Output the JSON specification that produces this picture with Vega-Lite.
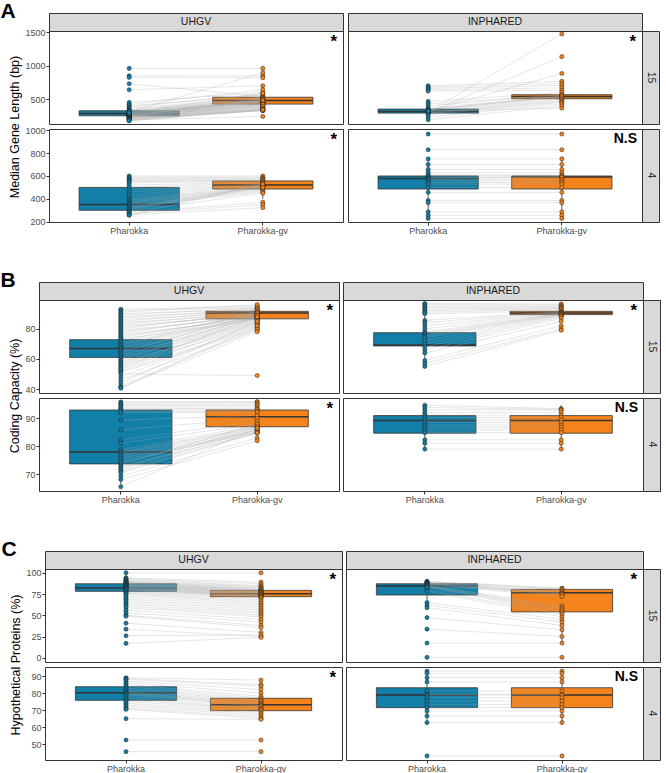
{
"$schema":"https://vega.github.io/schema/vega-lite/v6.json",
"background":"white",
"padding":{"left":0,"top":0,"right":0,"bottom":0},
"autosize":{"type":"pad"},
"columns":1,
"align":"none",
"spacing":33,
"config":{"font":"Liberation Sans","view":{"stroke":"#333333","strokeWidth":1},
"axis":{"labelFont":"Liberation Sans","titleFont":"Liberation Sans","labelFontSize":9,"labelColor":"#4d4d4d","labelOverlap":false,"tickColor":"#333333","tickSize":3,"domain":false,"grid":false,"labelPadding":1,"titleFontSize":12.5,"titleColor":"#000000","titleFontWeight":"normal","titlePadding":3}},
"datasets":{
"none":[],
"sig":[{"cell":"A_U15","s":"*"},{"cell":"A_I15","s":"*"},{"cell":"A_U4","s":"*"},{"cell":"A_I4","s":"N.S"},{"cell":"B_U15","s":"*"},{"cell":"B_I15","s":"*"},{"cell":"B_U4","s":"*"},{"cell":"B_I4","s":"N.S"},{"cell":"C_U15","s":"*"},{"cell":"C_I15","s":"*"},{"cell":"C_U4","s":"*"},{"cell":"C_I4","s":"N.S"}],
"box":[
{"cell":"A_U15","tool":"a","lo":175,"q1":250,"med":285,"q3":325,"hi":450},{"cell":"A_U15","tool":"b","lo":325,"q1":425,"med":478,"q3":528,"hi":680},
{"cell":"A_I15","tool":"a","lo":190,"q1":290,"med":315,"q3":350,"hi":465},{"cell":"A_I15","tool":"b","lo":430,"q1":505,"med":540,"q3":566,"hi":631},
{"cell":"A_U4","tool":"a","lo":257,"q1":300,"med":351,"q3":500,"hi":600},{"cell":"A_U4","tool":"b","lo":400,"q1":486,"med":520,"q3":557,"hi":600},
{"cell":"A_I4","tool":"a","lo":286,"q1":486,"med":577,"q3":600,"hi":749},{"cell":"A_I4","tool":"b","lo":286,"q1":486,"med":591,"q3":600,"hi":749},
{"cell":"B_U15","tool":"a","lo":44,"q1":61,"med":67,"q3":72.8,"hi":90},{"cell":"B_U15","tool":"b","lo":79,"q1":86.6,"med":90.5,"q3":91.6,"hi":96},
{"cell":"B_I15","tool":"a","lo":55,"q1":68.6,"med":69.2,"q3":77.4,"hi":90},{"cell":"B_I15","tool":"b","lo":86.5,"q1":89.4,"med":90.5,"q3":91.6,"hi":94.9},
{"cell":"B_U4","tool":"a","lo":65.5,"q1":73.7,"med":78,"q3":93,"hi":95.9},{"cell":"B_U4","tool":"b","lo":84.7,"q1":87,"med":90.6,"q3":93,"hi":95.9},
{"cell":"B_I4","tool":"a","lo":79,"q1":84.7,"med":89.2,"q3":91,"hi":94.7},{"cell":"B_I4","tool":"b","lo":79,"q1":84.7,"med":89.2,"q3":91,"hi":94.7},
{"cell":"C_U15","tool":"a","lo":65,"q1":78.2,"med":82,"q3":87.1,"hi":100},{"cell":"C_U15","tool":"b","lo":61,"q1":71.9,"med":75.4,"q3":79.3,"hi":89},
{"cell":"C_I15","tool":"a","lo":59,"q1":73.9,"med":84.4,"q3":87.1,"hi":90},{"cell":"C_I15","tool":"b","lo":17.3,"q1":54,"med":76.6,"q3":80.5,"hi":82},
{"cell":"C_U4","tool":"a","lo":70.4,"q1":75.7,"med":80.2,"q3":83.7,"hi":89},{"cell":"C_U4","tool":"b","lo":64.5,"q1":69.6,"med":73.1,"q3":76.9,"hi":87.6},
{"cell":"C_I4","tool":"a","lo":62.6,"q1":71.4,"med":78.8,"q3":83.1,"hi":92.9},{"cell":"C_I4","tool":"b","lo":62.6,"q1":71.4,"med":78.8,"q3":83.1,"hi":92.9}],
"A_U15":[{"i":1,"a":960,"b":960},{"i":2,"a":850,"b":850},{"i":3,"a":825,"b":820},{"i":4,"a":730,"b":540},{"i":5,"a":640,"b":700},{"i":6,"a":450,"b":600},{"i":7,"a":420,"b":640},{"i":8,"a":400,"b":560},{"i":9,"a":380,"b":580},{"i":10,"a":360,"b":530},{"i":11,"a":340,"b":520},{"i":12,"a":330,"b":500},{"i":13,"a":320,"b":510},{"i":14,"a":310,"b":490},{"i":15,"a":305,"b":480},{"i":16,"a":300,"b":470},{"i":17,"a":295,"b":500},{"i":18,"a":290,"b":460},{"i":19,"a":285,"b":480},{"i":20,"a":280,"b":470},{"i":21,"a":278,"b":455},{"i":22,"a":275,"b":490},{"i":23,"a":270,"b":450},{"i":24,"a":268,"b":440},{"i":25,"a":265,"b":460},{"i":26,"a":262,"b":430},{"i":27,"a":260,"b":445},{"i":28,"a":258,"b":470},{"i":29,"a":255,"b":420},{"i":30,"a":252,"b":400},{"i":31,"a":250,"b":480},{"i":32,"a":248,"b":410},{"i":33,"a":245,"b":390},{"i":34,"a":242,"b":430},{"i":35,"a":240,"b":380},{"i":36,"a":238,"b":400},{"i":37,"a":235,"b":360},{"i":38,"a":230,"b":420},{"i":39,"a":228,"b":350},{"i":40,"a":225,"b":370},{"i":41,"a":220,"b":340},{"i":42,"a":215,"b":330},{"i":43,"a":210,"b":390},{"i":44,"a":205,"b":360},{"i":45,"a":200,"b":325},{"i":46,"a":195,"b":350},{"i":47,"a":190,"b":335},{"i":48,"a":185,"b":240},{"i":49,"a":180,"b":330},{"i":50,"a":175,"b":340},{"i":51,"a":310,"b":895},{"i":52,"a":290,"b":590}],
"A_I15":[{"i":1,"a":310,"b":1475},{"i":2,"a":300,"b":1136},{"i":3,"a":320,"b":884},{"i":4,"a":700,"b":768},{"i":5,"a":680,"b":733},{"i":6,"a":660,"b":702},{"i":7,"a":640,"b":667},{"i":8,"a":620,"b":631},{"i":9,"a":465,"b":601},{"i":10,"a":430,"b":566},{"i":11,"a":400,"b":560},{"i":12,"a":365,"b":545},{"i":13,"a":350,"b":540},{"i":14,"a":340,"b":530},{"i":15,"a":330,"b":548},{"i":16,"a":315,"b":520},{"i":17,"a":300,"b":500},{"i":18,"a":290,"b":480},{"i":19,"a":280,"b":465},{"i":20,"a":265,"b":450},{"i":21,"a":230,"b":430},{"i":22,"a":190,"b":400},{"i":23,"a":320,"b":365}],
"A_U4":[{"i":1,"a":600,"b":600},{"i":2,"a":590,"b":590},{"i":3,"a":580,"b":580},{"i":4,"a":570,"b":575},{"i":5,"a":560,"b":565},{"i":6,"a":550,"b":560},{"i":7,"a":540,"b":555},{"i":8,"a":520,"b":545},{"i":9,"a":500,"b":540},{"i":10,"a":480,"b":530},{"i":11,"a":460,"b":525},{"i":12,"a":440,"b":520},{"i":13,"a":420,"b":515},{"i":14,"a":400,"b":510},{"i":15,"a":390,"b":505},{"i":16,"a":380,"b":500},{"i":17,"a":370,"b":495},{"i":18,"a":360,"b":490},{"i":19,"a":350,"b":480},{"i":20,"a":340,"b":470},{"i":21,"a":330,"b":460},{"i":22,"a":320,"b":520},{"i":23,"a":310,"b":510},{"i":24,"a":300,"b":500},{"i":25,"a":290,"b":450},{"i":26,"a":280,"b":370},{"i":27,"a":270,"b":350},{"i":28,"a":260,"b":323},{"i":29,"a":257,"b":530}],
"A_I4":[{"i":1,"a":966,"b":966},{"i":2,"a":829,"b":829},{"i":3,"a":749,"b":749},{"i":4,"a":700,"b":700},{"i":5,"a":657,"b":657},{"i":6,"a":629,"b":629},{"i":7,"a":609,"b":609},{"i":8,"a":600,"b":600},{"i":9,"a":586,"b":592},{"i":10,"a":578,"b":590},{"i":11,"a":571,"b":571},{"i":12,"a":557,"b":557},{"i":13,"a":543,"b":543},{"i":14,"a":529,"b":529},{"i":15,"a":500,"b":500},{"i":16,"a":457,"b":457},{"i":17,"a":386,"b":386},{"i":18,"a":366,"b":366},{"i":19,"a":286,"b":286},{"i":20,"a":257,"b":257},{"i":21,"a":229,"b":229}],
"B_U15":[{"i":1,"a":93,"b":95},{"i":2,"a":92,"b":94},{"i":3,"a":91,"b":96},{"i":4,"a":90,"b":93},{"i":5,"a":89,"b":94},{"i":6,"a":88,"b":92},{"i":7,"a":87,"b":93},{"i":8,"a":86,"b":91},{"i":9,"a":85,"b":92},{"i":10,"a":84,"b":90},{"i":11,"a":83,"b":91},{"i":12,"a":82,"b":89},{"i":13,"a":81,"b":90},{"i":14,"a":80,"b":91},{"i":15,"a":79,"b":88},{"i":16,"a":78,"b":89},{"i":17,"a":77,"b":90},{"i":18,"a":76,"b":87},{"i":19,"a":75,"b":88},{"i":20,"a":74,"b":89},{"i":21,"a":73,"b":86},{"i":22,"a":72,"b":90},{"i":23,"a":71,"b":88},{"i":24,"a":70,"b":87},{"i":25,"a":69,"b":91},{"i":26,"a":68,"b":89},{"i":27,"a":67,"b":88},{"i":28,"a":66,"b":87},{"i":29,"a":65,"b":86},{"i":30,"a":64,"b":90},{"i":31,"a":63,"b":85},{"i":32,"a":62,"b":88},{"i":33,"a":61,"b":84},{"i":34,"a":60,"b":89},{"i":35,"a":59,"b":87},{"i":36,"a":58,"b":83},{"i":37,"a":57,"b":86},{"i":38,"a":56,"b":85},{"i":39,"a":55,"b":82},{"i":40,"a":54,"b":88},{"i":41,"a":53,"b":84},{"i":42,"a":52,"b":81},{"i":43,"a":51,"b":80},{"i":44,"a":50,"b":49},{"i":45,"a":48,"b":83},{"i":46,"a":46,"b":79},{"i":47,"a":44,"b":85},{"i":48,"a":42,"b":80},{"i":49,"a":41,"b":78},{"i":50,"a":40.6,"b":82}],
"B_I15":[{"i":1,"a":96.8,"b":96.4},{"i":2,"a":96,"b":95.8},{"i":3,"a":95,"b":95},{"i":4,"a":94,"b":94.5},{"i":5,"a":93,"b":94},{"i":6,"a":92,"b":93.5},{"i":7,"a":91,"b":93},{"i":8,"a":90,"b":92},{"i":9,"a":85.5,"b":91.5},{"i":10,"a":84,"b":91},{"i":11,"a":82,"b":90.8},{"i":12,"a":80,"b":90.5},{"i":13,"a":78,"b":90.2},{"i":14,"a":77,"b":90},{"i":15,"a":76,"b":89.8},{"i":16,"a":75,"b":89.5},{"i":17,"a":74,"b":89.2},{"i":18,"a":72,"b":89},{"i":19,"a":70,"b":88.5},{"i":20,"a":68,"b":88},{"i":21,"a":66,"b":87},{"i":22,"a":64,"b":85},{"i":23,"a":59,"b":82},{"i":24,"a":57,"b":80},{"i":25,"a":55,"b":79}],
"B_U4":[{"i":1,"a":95.9,"b":96},{"i":2,"a":95.5,"b":95.8},{"i":3,"a":95,"b":95.2},{"i":4,"a":94.5,"b":94.8},{"i":5,"a":94,"b":94.2},{"i":6,"a":93.5,"b":93.6},{"i":7,"a":93,"b":93.2},{"i":8,"a":92.5,"b":92.6},{"i":9,"a":92,"b":92.2},{"i":10,"a":89.4,"b":91},{"i":11,"a":85.9,"b":90},{"i":12,"a":82.3,"b":89},{"i":13,"a":81.1,"b":88},{"i":14,"a":78.8,"b":87.5},{"i":15,"a":78,"b":87},{"i":16,"a":77.6,"b":86.8},{"i":17,"a":77,"b":86.5},{"i":18,"a":76.4,"b":86},{"i":19,"a":75.8,"b":85.5},{"i":20,"a":75.2,"b":85.2},{"i":21,"a":74.6,"b":85},{"i":22,"a":74,"b":86},{"i":23,"a":73.4,"b":88},{"i":24,"a":72.8,"b":84.7},{"i":25,"a":72.2,"b":87},{"i":26,"a":71.7,"b":86},{"i":27,"a":71,"b":85},{"i":28,"a":70.5,"b":84.8},{"i":29,"a":69.3,"b":83},{"i":30,"a":68.1,"b":82},{"i":31,"a":65.5,"b":86.5}],
"B_I4":[{"i":1,"a":94.7,"b":93.5},{"i":2,"a":93.9,"b":93.2},{"i":3,"a":93,"b":93},{"i":4,"a":92,"b":92.2},{"i":5,"a":91.2,"b":91.2},{"i":6,"a":90.4,"b":90.4},{"i":7,"a":89.4,"b":89.4},{"i":8,"a":88.5,"b":88.5},{"i":9,"a":87.6,"b":87.6},{"i":10,"a":86.8,"b":86.8},{"i":11,"a":85.9,"b":85.9},{"i":12,"a":84.9,"b":84.9},{"i":13,"a":82.3,"b":82.3},{"i":14,"a":81.1,"b":81.1},{"i":15,"a":79,"b":79}],
"C_U15":[{"i":1,"a":100,"b":100},{"i":2,"a":94,"b":89},{"i":3,"a":93,"b":87},{"i":4,"a":92,"b":85},{"i":5,"a":91,"b":84},{"i":6,"a":90,"b":83},{"i":7,"a":89.5,"b":82},{"i":8,"a":89,"b":81},{"i":9,"a":88.5,"b":80},{"i":10,"a":88,"b":80},{"i":11,"a":87.5,"b":79},{"i":12,"a":87,"b":79},{"i":13,"a":86.5,"b":78},{"i":14,"a":86,"b":78},{"i":15,"a":85.5,"b":77},{"i":16,"a":85,"b":77},{"i":17,"a":84.5,"b":76},{"i":18,"a":84,"b":76},{"i":19,"a":83.5,"b":75},{"i":20,"a":83,"b":75},{"i":21,"a":82.5,"b":74},{"i":22,"a":82,"b":74},{"i":23,"a":81.5,"b":73},{"i":24,"a":81,"b":73},{"i":25,"a":80.5,"b":72},{"i":26,"a":80,"b":72},{"i":27,"a":79,"b":71},{"i":28,"a":78,"b":70},{"i":29,"a":77,"b":68},{"i":30,"a":76,"b":66},{"i":31,"a":75,"b":64},{"i":32,"a":73,"b":62},{"i":33,"a":71,"b":60},{"i":34,"a":69,"b":58},{"i":35,"a":67,"b":56},{"i":36,"a":65,"b":54},{"i":37,"a":63,"b":52},{"i":38,"a":61,"b":50},{"i":39,"a":59,"b":48},{"i":40,"a":56,"b":45},{"i":41,"a":53,"b":42},{"i":42,"a":50,"b":38},{"i":43,"a":49,"b":35.6},{"i":44,"a":40.7,"b":29.8},{"i":45,"a":33.7,"b":25},{"i":46,"a":25.9,"b":27},{"i":47,"a":16.9,"b":24}],
"C_I15":[{"i":1,"a":90,"b":82},{"i":2,"a":89.5,"b":81},{"i":3,"a":89,"b":80},{"i":4,"a":88.5,"b":78},{"i":5,"a":88,"b":76.6},{"i":6,"a":87.5,"b":76},{"i":7,"a":87,"b":75},{"i":8,"a":86.5,"b":74},{"i":9,"a":86,"b":72},{"i":10,"a":85.5,"b":61},{"i":11,"a":85,"b":59},{"i":12,"a":84.5,"b":57},{"i":13,"a":84,"b":55},{"i":14,"a":83,"b":53},{"i":15,"a":80,"b":51},{"i":16,"a":78.5,"b":48},{"i":17,"a":65,"b":45},{"i":18,"a":62,"b":42},{"i":19,"a":59,"b":38},{"i":20,"a":47.3,"b":33},{"i":21,"a":33.7,"b":25},{"i":22,"a":17.3,"b":17.3},{"i":23,"a":0.5,"b":0.5}],
"C_U4":[{"i":1,"a":89,"b":87.6},{"i":2,"a":88.5,"b":85},{"i":3,"a":88,"b":84},{"i":4,"a":87,"b":82},{"i":5,"a":86,"b":80},{"i":6,"a":85,"b":78},{"i":7,"a":84,"b":77},{"i":8,"a":83,"b":76},{"i":9,"a":82,"b":75.5},{"i":10,"a":81,"b":75},{"i":11,"a":80.5,"b":74},{"i":12,"a":80,"b":73.5},{"i":13,"a":79.5,"b":73},{"i":14,"a":79,"b":72.5},{"i":15,"a":78,"b":72},{"i":16,"a":77,"b":71},{"i":17,"a":76,"b":70.5},{"i":18,"a":75,"b":70},{"i":19,"a":74,"b":69},{"i":20,"a":73,"b":68},{"i":21,"a":72,"b":67},{"i":22,"a":71,"b":66},{"i":23,"a":70.4,"b":65},{"i":24,"a":64.9,"b":64.5},{"i":25,"a":52.4,"b":52.4},{"i":26,"a":45.5,"b":45.5}],
"C_I4":[{"i":1,"a":92.9,"b":92.9},{"i":2,"a":91.6,"b":91.6},{"i":3,"a":89,"b":89},{"i":4,"a":86.5,"b":86.5},{"i":5,"a":81.2,"b":81.2},{"i":6,"a":79.2,"b":79.2},{"i":7,"a":78.8,"b":78.8},{"i":8,"a":77.3,"b":77.3},{"i":9,"a":75.3,"b":75.3},{"i":10,"a":73.3,"b":73.3},{"i":11,"a":71.4,"b":71.4},{"i":12,"a":69.4,"b":69.4},{"i":13,"a":66.5,"b":66.5},{"i":14,"a":62.6,"b":62.6},{"i":15,"a":43,"b":43}]
},
"concat":[
{"title":{"text":"A","anchor":"start","frame":"bounds","fontSize":21,"fontWeight":"bold","color":"#000000","font":"Liberation Sans","offset":-9,"dx":-8},
"columns":5,"spacing":0,"bounds":"flush",
"concat":[
{"width":10,"height":1,"view":{"stroke":null},"data":{"name":"none"},"mark":"point"},
{"width":294,"height":18,"view":{"fill":"#d9d9d9","stroke":"#333333"},"data":{"values":[{"s":"UHGV"}]},"mark":{"type":"text","fontSize":10.5,"color":"#1a1a1a"},"encoding":{"text":{"field":"s","type":"nominal"}}},
{"width":5,"height":18,"view":{"stroke":null},"data":{"name":"none"},"mark":"point"},
{"width":294,"height":18,"view":{"fill":"#d9d9d9","stroke":"#333333"},"data":{"values":[{"s":"INPHARED"}]},"mark":{"type":"text","fontSize":10.5,"color":"#1a1a1a"},"encoding":{"text":{"field":"s","type":"nominal"}}},
{"width":1,"height":1,"view":{"stroke":null},"data":{"name":"none"},"mark":"point"},
{"width":1,"height":1,"view":{"stroke":null},"data":{"name":"none"},"mark":"point"},
{"width":294,"height":93,"layer":[
{"data":{"name":"box"},"transform":[{"filter":"datum.cell=='A_U15'"}],"layer":[
{"mark":{"type":"rule","stroke":"#333333","strokeWidth":0.8},"encoding":{"x":{"field":"tool","type":"nominal","scale":{"type":"band","domain":["a","b"],"paddingInner":0.25,"paddingOuter":0.225},"axis":null},"y":{"field":"lo","type":"quantitative","scale":{"domain":[127,1520],"nice":false,"zero":false},"axis":{"values":[500,1000,1500],"format":"d","title":"Median Gene Length (bp)","titleY":95.5}},"y2":{"field":"hi"}}},
{"mark":{"type":"bar","stroke":"#333333","strokeWidth":0.8},"encoding":{"x":{"field":"tool","type":"nominal","axis":null},"y":{"field":"q1","type":"quantitative","axis":{"values":[500,1000,1500],"format":"d","title":"Median Gene Length (bp)","titleY":95.5}},"y2":{"field":"q3"},"fill":{"field":"tool","type":"nominal","scale":{"domain":["a","b"],"range":["#117FA7","#F3831A"]},"legend":null}}},
{"mark":{"type":"bar","stroke":"#333333","strokeWidth":1.5},"encoding":{"x":{"field":"tool","type":"nominal","axis":null},"y":{"field":"med","type":"quantitative","axis":{"values":[500,1000,1500],"format":"d","title":"Median Gene Length (bp)","titleY":95.5}},"y2":{"field":"med"}}}]},
{"data":{"name":"A_U15"},"transform":[{"fold":["a","b"],"as":["tool","v"]}],"layer":[
{"mark":{"type":"line","stroke":"#aaaaaa","strokeWidth":0.6,"opacity":0.5},"encoding":{"x":{"field":"tool","type":"nominal","axis":null},"y":{"field":"v","type":"quantitative","axis":{"values":[500,1000,1500],"format":"d","title":"Median Gene Length (bp)","titleY":95.5}},"detail":{"field":"i","type":"nominal"}}},
{"mark":{"type":"circle","size":17,"stroke":"#1f1f1f","strokeWidth":0.5,"opacity":1},"encoding":{"x":{"field":"tool","type":"nominal","axis":null},"y":{"field":"v","type":"quantitative","axis":{"values":[500,1000,1500],"format":"d","title":"Median Gene Length (bp)","titleY":95.5}},"fill":{"field":"tool","type":"nominal","legend":null}}}]},
{"data":{"name":"sig"},"transform":[{"filter":"datum.cell=='A_U15'"}],"mark":{"type":"text","align":"right","baseline":"top","dx":-6,"dy":3,"fontWeight":"bold","fontSize":17,"color":"#000000"},"encoding":{"x":{"value":"width"},"y":{"value":0},"text":{"field":"s","type":"nominal"}}}]},
{"width":1,"height":1,"view":{"stroke":null},"data":{"name":"none"},"mark":"point"},
{"width":294,"height":93,"layer":[
{"data":{"name":"box"},"transform":[{"filter":"datum.cell=='A_I15'"}],"layer":[
{"mark":{"type":"rule","stroke":"#333333","strokeWidth":0.8},"encoding":{"x":{"field":"tool","type":"nominal","scale":{"type":"band","domain":["a","b"],"paddingInner":0.25,"paddingOuter":0.225},"axis":null},"y":{"field":"lo","type":"quantitative","scale":{"domain":[127,1520],"nice":false,"zero":false},"axis":null},"y2":{"field":"hi"}}},
{"mark":{"type":"bar","stroke":"#333333","strokeWidth":0.8},"encoding":{"x":{"field":"tool","type":"nominal","axis":null},"y":{"field":"q1","type":"quantitative","axis":null},"y2":{"field":"q3"},"fill":{"field":"tool","type":"nominal","scale":{"domain":["a","b"],"range":["#117FA7","#F3831A"]},"legend":null}}},
{"mark":{"type":"bar","stroke":"#333333","strokeWidth":1.5},"encoding":{"x":{"field":"tool","type":"nominal","axis":null},"y":{"field":"med","type":"quantitative","axis":null},"y2":{"field":"med"}}}]},
{"data":{"name":"A_I15"},"transform":[{"fold":["a","b"],"as":["tool","v"]}],"layer":[
{"mark":{"type":"line","stroke":"#aaaaaa","strokeWidth":0.6,"opacity":0.5},"encoding":{"x":{"field":"tool","type":"nominal","axis":null},"y":{"field":"v","type":"quantitative","axis":null},"detail":{"field":"i","type":"nominal"}}},
{"mark":{"type":"circle","size":17,"stroke":"#1f1f1f","strokeWidth":0.5,"opacity":1},"encoding":{"x":{"field":"tool","type":"nominal","axis":null},"y":{"field":"v","type":"quantitative","axis":null},"fill":{"field":"tool","type":"nominal","legend":null}}}]},
{"data":{"name":"sig"},"transform":[{"filter":"datum.cell=='A_I15'"}],"mark":{"type":"text","align":"right","baseline":"top","dx":-6,"dy":3,"fontWeight":"bold","fontSize":17,"color":"#000000"},"encoding":{"x":{"value":"width"},"y":{"value":0},"text":{"field":"s","type":"nominal"}}}]},
{"width":17,"height":93,"view":{"fill":"#d9d9d9","stroke":"#333333"},"data":{"values":[{"s":"15"}]},"mark":{"type":"text","fontSize":10.5,"color":"#1a1a1a","angle":90},"encoding":{"text":{"field":"s","type":"nominal"}}},
{"width":1,"height":5,"view":{"stroke":null},"data":{"name":"none"},"mark":"point"},
{"width":1,"height":1,"view":{"stroke":null},"data":{"name":"none"},"mark":"point"},
{"width":1,"height":1,"view":{"stroke":null},"data":{"name":"none"},"mark":"point"},
{"width":1,"height":1,"view":{"stroke":null},"data":{"name":"none"},"mark":"point"},
{"width":1,"height":1,"view":{"stroke":null},"data":{"name":"none"},"mark":"point"},
{"width":1,"height":1,"view":{"stroke":null},"data":{"name":"none"},"mark":"point"},
{"width":294,"height":93,"layer":[
{"data":{"name":"box"},"transform":[{"filter":"datum.cell=='A_U4'"}],"layer":[
{"mark":{"type":"rule","stroke":"#333333","strokeWidth":0.8},"encoding":{"x":{"field":"tool","type":"nominal","scale":{"type":"band","domain":["a","b"],"paddingInner":0.25,"paddingOuter":0.225},"axis":{"title":null,"labelAngle":0,"labelExpr":"datum.value=='a'?'Pharokka':'Pharokka-gv'"}},"y":{"field":"lo","type":"quantitative","scale":{"domain":[198,1010],"nice":false,"zero":false},"axis":{"values":[200,400,600,800,1000],"format":"d","title":null}},"y2":{"field":"hi"}}},
{"mark":{"type":"bar","stroke":"#333333","strokeWidth":0.8},"encoding":{"x":{"field":"tool","type":"nominal","axis":{"title":null,"labelAngle":0,"labelExpr":"datum.value=='a'?'Pharokka':'Pharokka-gv'"}},"y":{"field":"q1","type":"quantitative","axis":{"values":[200,400,600,800,1000],"format":"d","title":null}},"y2":{"field":"q3"},"fill":{"field":"tool","type":"nominal","scale":{"domain":["a","b"],"range":["#117FA7","#F3831A"]},"legend":null}}},
{"mark":{"type":"bar","stroke":"#333333","strokeWidth":1.5},"encoding":{"x":{"field":"tool","type":"nominal","axis":{"title":null,"labelAngle":0,"labelExpr":"datum.value=='a'?'Pharokka':'Pharokka-gv'"}},"y":{"field":"med","type":"quantitative","axis":{"values":[200,400,600,800,1000],"format":"d","title":null}},"y2":{"field":"med"}}}]},
{"data":{"name":"A_U4"},"transform":[{"fold":["a","b"],"as":["tool","v"]}],"layer":[
{"mark":{"type":"line","stroke":"#aaaaaa","strokeWidth":0.6,"opacity":0.5},"encoding":{"x":{"field":"tool","type":"nominal","axis":{"title":null,"labelAngle":0,"labelExpr":"datum.value=='a'?'Pharokka':'Pharokka-gv'"}},"y":{"field":"v","type":"quantitative","axis":{"values":[200,400,600,800,1000],"format":"d","title":null}},"detail":{"field":"i","type":"nominal"}}},
{"mark":{"type":"circle","size":17,"stroke":"#1f1f1f","strokeWidth":0.5,"opacity":1},"encoding":{"x":{"field":"tool","type":"nominal","axis":{"title":null,"labelAngle":0,"labelExpr":"datum.value=='a'?'Pharokka':'Pharokka-gv'"}},"y":{"field":"v","type":"quantitative","axis":{"values":[200,400,600,800,1000],"format":"d","title":null}},"fill":{"field":"tool","type":"nominal","legend":null}}}]},
{"data":{"name":"sig"},"transform":[{"filter":"datum.cell=='A_U4'"}],"mark":{"type":"text","align":"right","baseline":"top","dx":-6,"dy":3,"fontWeight":"bold","fontSize":17,"color":"#000000"},"encoding":{"x":{"value":"width"},"y":{"value":0},"text":{"field":"s","type":"nominal"}}}]},
{"width":1,"height":1,"view":{"stroke":null},"data":{"name":"none"},"mark":"point"},
{"width":294,"height":93,"layer":[
{"data":{"name":"box"},"transform":[{"filter":"datum.cell=='A_I4'"}],"layer":[
{"mark":{"type":"rule","stroke":"#333333","strokeWidth":0.8},"encoding":{"x":{"field":"tool","type":"nominal","scale":{"type":"band","domain":["a","b"],"paddingInner":0.25,"paddingOuter":0.225},"axis":{"title":null,"labelAngle":0,"labelExpr":"datum.value=='a'?'Pharokka':'Pharokka-gv'"}},"y":{"field":"lo","type":"quantitative","scale":{"domain":[198,1010],"nice":false,"zero":false},"axis":null},"y2":{"field":"hi"}}},
{"mark":{"type":"bar","stroke":"#333333","strokeWidth":0.8},"encoding":{"x":{"field":"tool","type":"nominal","axis":{"title":null,"labelAngle":0,"labelExpr":"datum.value=='a'?'Pharokka':'Pharokka-gv'"}},"y":{"field":"q1","type":"quantitative","axis":null},"y2":{"field":"q3"},"fill":{"field":"tool","type":"nominal","scale":{"domain":["a","b"],"range":["#117FA7","#F3831A"]},"legend":null}}},
{"mark":{"type":"bar","stroke":"#333333","strokeWidth":1.5},"encoding":{"x":{"field":"tool","type":"nominal","axis":{"title":null,"labelAngle":0,"labelExpr":"datum.value=='a'?'Pharokka':'Pharokka-gv'"}},"y":{"field":"med","type":"quantitative","axis":null},"y2":{"field":"med"}}}]},
{"data":{"name":"A_I4"},"transform":[{"fold":["a","b"],"as":["tool","v"]}],"layer":[
{"mark":{"type":"line","stroke":"#aaaaaa","strokeWidth":0.6,"opacity":0.5},"encoding":{"x":{"field":"tool","type":"nominal","axis":{"title":null,"labelAngle":0,"labelExpr":"datum.value=='a'?'Pharokka':'Pharokka-gv'"}},"y":{"field":"v","type":"quantitative","axis":null},"detail":{"field":"i","type":"nominal"}}},
{"mark":{"type":"circle","size":17,"stroke":"#1f1f1f","strokeWidth":0.5,"opacity":1},"encoding":{"x":{"field":"tool","type":"nominal","axis":{"title":null,"labelAngle":0,"labelExpr":"datum.value=='a'?'Pharokka':'Pharokka-gv'"}},"y":{"field":"v","type":"quantitative","axis":null},"fill":{"field":"tool","type":"nominal","legend":null}}}]},
{"data":{"name":"sig"},"transform":[{"filter":"datum.cell=='A_I4'"}],"mark":{"type":"text","align":"right","baseline":"top","dx":-5,"dy":3,"fontWeight":"bold","fontSize":14,"color":"#000000"},"encoding":{"x":{"value":"width"},"y":{"value":0},"text":{"field":"s","type":"nominal"}}}]},
{"width":17,"height":93,"view":{"fill":"#d9d9d9","stroke":"#333333"},"data":{"values":[{"s":"4"}]},"mark":{"type":"text","fontSize":10.5,"color":"#1a1a1a","angle":90},"encoding":{"text":{"field":"s","type":"nominal"}}}
]},

{"title":{"text":"B","anchor":"start","frame":"bounds","fontSize":21,"fontWeight":"bold","color":"#000000","font":"Liberation Sans","offset":-9,"dx":-8},
"columns":4,"spacing":0,"bounds":"flush",
"concat":[
{"width":300,"height":18,"view":{"fill":"#d9d9d9","stroke":"#333333"},"data":{"values":[{"s":"UHGV"}]},"mark":{"type":"text","fontSize":10.5,"color":"#1a1a1a"},"encoding":{"text":{"field":"s","type":"nominal"}}},
{"width":4,"height":18,"view":{"stroke":null},"data":{"name":"none"},"mark":"point"},
{"width":300,"height":18,"view":{"fill":"#d9d9d9","stroke":"#333333"},"data":{"values":[{"s":"INPHARED"}]},"mark":{"type":"text","fontSize":10.5,"color":"#1a1a1a"},"encoding":{"text":{"field":"s","type":"nominal"}}},
{"width":1,"height":1,"view":{"stroke":null},"data":{"name":"none"},"mark":"point"},
{"width":300,"height":93,"layer":[
{"data":{"name":"box"},"transform":[{"filter":"datum.cell=='B_U15'"}],"layer":[
{"mark":{"type":"rule","stroke":"#333333","strokeWidth":0.8},"encoding":{"x":{"field":"tool","type":"nominal","scale":{"type":"band","domain":["a","b"],"paddingInner":0.25,"paddingOuter":0.225},"axis":null},"y":{"field":"lo","type":"quantitative","scale":{"domain":[37.4,99.1],"nice":false,"zero":false},"axis":{"values":[40,60,80],"format":"d","title":"Coding Capacity (%)","titleY":95.5}},"y2":{"field":"hi"}}},
{"mark":{"type":"bar","stroke":"#333333","strokeWidth":0.8},"encoding":{"x":{"field":"tool","type":"nominal","axis":null},"y":{"field":"q1","type":"quantitative","axis":{"values":[40,60,80],"format":"d","title":"Coding Capacity (%)","titleY":95.5}},"y2":{"field":"q3"},"fill":{"field":"tool","type":"nominal","scale":{"domain":["a","b"],"range":["#117FA7","#F3831A"]},"legend":null}}},
{"mark":{"type":"bar","stroke":"#333333","strokeWidth":1.5},"encoding":{"x":{"field":"tool","type":"nominal","axis":null},"y":{"field":"med","type":"quantitative","axis":{"values":[40,60,80],"format":"d","title":"Coding Capacity (%)","titleY":95.5}},"y2":{"field":"med"}}}]},
{"data":{"name":"B_U15"},"transform":[{"fold":["a","b"],"as":["tool","v"]}],"layer":[
{"mark":{"type":"line","stroke":"#aaaaaa","strokeWidth":0.6,"opacity":0.5},"encoding":{"x":{"field":"tool","type":"nominal","axis":null},"y":{"field":"v","type":"quantitative","axis":{"values":[40,60,80],"format":"d","title":"Coding Capacity (%)","titleY":95.5}},"detail":{"field":"i","type":"nominal"}}},
{"mark":{"type":"circle","size":17,"stroke":"#1f1f1f","strokeWidth":0.5,"opacity":1},"encoding":{"x":{"field":"tool","type":"nominal","axis":null},"y":{"field":"v","type":"quantitative","axis":{"values":[40,60,80],"format":"d","title":"Coding Capacity (%)","titleY":95.5}},"fill":{"field":"tool","type":"nominal","legend":null}}}]},
{"data":{"name":"sig"},"transform":[{"filter":"datum.cell=='B_U15'"}],"mark":{"type":"text","align":"right","baseline":"top","dx":-6,"dy":3,"fontWeight":"bold","fontSize":17,"color":"#000000"},"encoding":{"x":{"value":"width"},"y":{"value":0},"text":{"field":"s","type":"nominal"}}}]},
{"width":1,"height":1,"view":{"stroke":null},"data":{"name":"none"},"mark":"point"},
{"width":300,"height":93,"layer":[
{"data":{"name":"box"},"transform":[{"filter":"datum.cell=='B_I15'"}],"layer":[
{"mark":{"type":"rule","stroke":"#333333","strokeWidth":0.8},"encoding":{"x":{"field":"tool","type":"nominal","scale":{"type":"band","domain":["a","b"],"paddingInner":0.25,"paddingOuter":0.225},"axis":null},"y":{"field":"lo","type":"quantitative","scale":{"domain":[37.4,99.1],"nice":false,"zero":false},"axis":null},"y2":{"field":"hi"}}},
{"mark":{"type":"bar","stroke":"#333333","strokeWidth":0.8},"encoding":{"x":{"field":"tool","type":"nominal","axis":null},"y":{"field":"q1","type":"quantitative","axis":null},"y2":{"field":"q3"},"fill":{"field":"tool","type":"nominal","scale":{"domain":["a","b"],"range":["#117FA7","#F3831A"]},"legend":null}}},
{"mark":{"type":"bar","stroke":"#333333","strokeWidth":1.5},"encoding":{"x":{"field":"tool","type":"nominal","axis":null},"y":{"field":"med","type":"quantitative","axis":null},"y2":{"field":"med"}}}]},
{"data":{"name":"B_I15"},"transform":[{"fold":["a","b"],"as":["tool","v"]}],"layer":[
{"mark":{"type":"line","stroke":"#aaaaaa","strokeWidth":0.6,"opacity":0.5},"encoding":{"x":{"field":"tool","type":"nominal","axis":null},"y":{"field":"v","type":"quantitative","axis":null},"detail":{"field":"i","type":"nominal"}}},
{"mark":{"type":"circle","size":17,"stroke":"#1f1f1f","strokeWidth":0.5,"opacity":1},"encoding":{"x":{"field":"tool","type":"nominal","axis":null},"y":{"field":"v","type":"quantitative","axis":null},"fill":{"field":"tool","type":"nominal","legend":null}}}]},
{"data":{"name":"sig"},"transform":[{"filter":"datum.cell=='B_I15'"}],"mark":{"type":"text","align":"right","baseline":"top","dx":-6,"dy":3,"fontWeight":"bold","fontSize":17,"color":"#000000"},"encoding":{"x":{"value":"width"},"y":{"value":0},"text":{"field":"s","type":"nominal"}}}]},
{"width":17,"height":93,"view":{"fill":"#d9d9d9","stroke":"#333333"},"data":{"values":[{"s":"15"}]},"mark":{"type":"text","fontSize":10.5,"color":"#1a1a1a","angle":90},"encoding":{"text":{"field":"s","type":"nominal"}}},
{"width":1,"height":5,"view":{"stroke":null},"data":{"name":"none"},"mark":"point"},
{"width":1,"height":1,"view":{"stroke":null},"data":{"name":"none"},"mark":"point"},
{"width":1,"height":1,"view":{"stroke":null},"data":{"name":"none"},"mark":"point"},
{"width":1,"height":1,"view":{"stroke":null},"data":{"name":"none"},"mark":"point"},
{"width":300,"height":93,"layer":[
{"data":{"name":"box"},"transform":[{"filter":"datum.cell=='B_U4'"}],"layer":[
{"mark":{"type":"rule","stroke":"#333333","strokeWidth":0.8},"encoding":{"x":{"field":"tool","type":"nominal","scale":{"type":"band","domain":["a","b"],"paddingInner":0.25,"paddingOuter":0.225},"axis":{"title":null,"labelAngle":0,"labelExpr":"datum.value=='a'?'Pharokka':'Pharokka-gv'"}},"y":{"field":"lo","type":"quantitative","scale":{"domain":[64,97.3],"nice":false,"zero":false},"axis":{"values":[70,80,90],"format":"d","title":null}},"y2":{"field":"hi"}}},
{"mark":{"type":"bar","stroke":"#333333","strokeWidth":0.8},"encoding":{"x":{"field":"tool","type":"nominal","axis":{"title":null,"labelAngle":0,"labelExpr":"datum.value=='a'?'Pharokka':'Pharokka-gv'"}},"y":{"field":"q1","type":"quantitative","axis":{"values":[70,80,90],"format":"d","title":null}},"y2":{"field":"q3"},"fill":{"field":"tool","type":"nominal","scale":{"domain":["a","b"],"range":["#117FA7","#F3831A"]},"legend":null}}},
{"mark":{"type":"bar","stroke":"#333333","strokeWidth":1.5},"encoding":{"x":{"field":"tool","type":"nominal","axis":{"title":null,"labelAngle":0,"labelExpr":"datum.value=='a'?'Pharokka':'Pharokka-gv'"}},"y":{"field":"med","type":"quantitative","axis":{"values":[70,80,90],"format":"d","title":null}},"y2":{"field":"med"}}}]},
{"data":{"name":"B_U4"},"transform":[{"fold":["a","b"],"as":["tool","v"]}],"layer":[
{"mark":{"type":"line","stroke":"#aaaaaa","strokeWidth":0.6,"opacity":0.5},"encoding":{"x":{"field":"tool","type":"nominal","axis":{"title":null,"labelAngle":0,"labelExpr":"datum.value=='a'?'Pharokka':'Pharokka-gv'"}},"y":{"field":"v","type":"quantitative","axis":{"values":[70,80,90],"format":"d","title":null}},"detail":{"field":"i","type":"nominal"}}},
{"mark":{"type":"circle","size":17,"stroke":"#1f1f1f","strokeWidth":0.5,"opacity":1},"encoding":{"x":{"field":"tool","type":"nominal","axis":{"title":null,"labelAngle":0,"labelExpr":"datum.value=='a'?'Pharokka':'Pharokka-gv'"}},"y":{"field":"v","type":"quantitative","axis":{"values":[70,80,90],"format":"d","title":null}},"fill":{"field":"tool","type":"nominal","legend":null}}}]},
{"data":{"name":"sig"},"transform":[{"filter":"datum.cell=='B_U4'"}],"mark":{"type":"text","align":"right","baseline":"top","dx":-6,"dy":3,"fontWeight":"bold","fontSize":17,"color":"#000000"},"encoding":{"x":{"value":"width"},"y":{"value":0},"text":{"field":"s","type":"nominal"}}}]},
{"width":1,"height":1,"view":{"stroke":null},"data":{"name":"none"},"mark":"point"},
{"width":300,"height":93,"layer":[
{"data":{"name":"box"},"transform":[{"filter":"datum.cell=='B_I4'"}],"layer":[
{"mark":{"type":"rule","stroke":"#333333","strokeWidth":0.8},"encoding":{"x":{"field":"tool","type":"nominal","scale":{"type":"band","domain":["a","b"],"paddingInner":0.25,"paddingOuter":0.225},"axis":{"title":null,"labelAngle":0,"labelExpr":"datum.value=='a'?'Pharokka':'Pharokka-gv'"}},"y":{"field":"lo","type":"quantitative","scale":{"domain":[64,97.3],"nice":false,"zero":false},"axis":null},"y2":{"field":"hi"}}},
{"mark":{"type":"bar","stroke":"#333333","strokeWidth":0.8},"encoding":{"x":{"field":"tool","type":"nominal","axis":{"title":null,"labelAngle":0,"labelExpr":"datum.value=='a'?'Pharokka':'Pharokka-gv'"}},"y":{"field":"q1","type":"quantitative","axis":null},"y2":{"field":"q3"},"fill":{"field":"tool","type":"nominal","scale":{"domain":["a","b"],"range":["#117FA7","#F3831A"]},"legend":null}}},
{"mark":{"type":"bar","stroke":"#333333","strokeWidth":1.5},"encoding":{"x":{"field":"tool","type":"nominal","axis":{"title":null,"labelAngle":0,"labelExpr":"datum.value=='a'?'Pharokka':'Pharokka-gv'"}},"y":{"field":"med","type":"quantitative","axis":null},"y2":{"field":"med"}}}]},
{"data":{"name":"B_I4"},"transform":[{"fold":["a","b"],"as":["tool","v"]}],"layer":[
{"mark":{"type":"line","stroke":"#aaaaaa","strokeWidth":0.6,"opacity":0.5},"encoding":{"x":{"field":"tool","type":"nominal","axis":{"title":null,"labelAngle":0,"labelExpr":"datum.value=='a'?'Pharokka':'Pharokka-gv'"}},"y":{"field":"v","type":"quantitative","axis":null},"detail":{"field":"i","type":"nominal"}}},
{"mark":{"type":"circle","size":17,"stroke":"#1f1f1f","strokeWidth":0.5,"opacity":1},"encoding":{"x":{"field":"tool","type":"nominal","axis":{"title":null,"labelAngle":0,"labelExpr":"datum.value=='a'?'Pharokka':'Pharokka-gv'"}},"y":{"field":"v","type":"quantitative","axis":null},"fill":{"field":"tool","type":"nominal","legend":null}}}]},
{"data":{"name":"sig"},"transform":[{"filter":"datum.cell=='B_I4'"}],"mark":{"type":"text","align":"right","baseline":"top","dx":-5,"dy":3,"fontWeight":"bold","fontSize":14,"color":"#000000"},"encoding":{"x":{"value":"width"},"y":{"value":0},"text":{"field":"s","type":"nominal"}}}]},
{"width":17,"height":93,"view":{"fill":"#d9d9d9","stroke":"#333333"},"data":{"values":[{"s":"4"}]},"mark":{"type":"text","fontSize":10.5,"color":"#1a1a1a","angle":90},"encoding":{"text":{"field":"s","type":"nominal"}}}
]},

{"title":{"text":"C","anchor":"start","frame":"bounds","fontSize":21,"fontWeight":"bold","color":"#000000","font":"Liberation Sans","offset":-9,"dx":-8},
"columns":5,"spacing":0,"bounds":"flush",
"concat":[
{"width":6,"height":1,"view":{"stroke":null},"data":{"name":"none"},"mark":"point"},
{"width":297,"height":18,"view":{"fill":"#d9d9d9","stroke":"#333333"},"data":{"values":[{"s":"UHGV"}]},"mark":{"type":"text","fontSize":10.5,"color":"#1a1a1a"},"encoding":{"text":{"field":"s","type":"nominal"}}},
{"width":4,"height":18,"view":{"stroke":null},"data":{"name":"none"},"mark":"point"},
{"width":297,"height":18,"view":{"fill":"#d9d9d9","stroke":"#333333"},"data":{"values":[{"s":"INPHARED"}]},"mark":{"type":"text","fontSize":10.5,"color":"#1a1a1a"},"encoding":{"text":{"field":"s","type":"nominal"}}},
{"width":1,"height":1,"view":{"stroke":null},"data":{"name":"none"},"mark":"point"},
{"width":1,"height":1,"view":{"stroke":null},"data":{"name":"none"},"mark":"point"},
{"width":297,"height":93,"layer":[
{"data":{"name":"box"},"transform":[{"filter":"datum.cell=='C_U15'"}],"layer":[
{"mark":{"type":"rule","stroke":"#333333","strokeWidth":0.8},"encoding":{"x":{"field":"tool","type":"nominal","scale":{"type":"band","domain":["a","b"],"paddingInner":0.25,"paddingOuter":0.225},"axis":null},"y":{"field":"lo","type":"quantitative","scale":{"domain":[-5,104.5],"nice":false,"zero":false},"axis":{"values":[0,25,50,75,100],"format":"d","title":"Hypothetical Proteins (%)","titleY":95.5}},"y2":{"field":"hi"}}},
{"mark":{"type":"bar","stroke":"#333333","strokeWidth":0.8},"encoding":{"x":{"field":"tool","type":"nominal","axis":null},"y":{"field":"q1","type":"quantitative","axis":{"values":[0,25,50,75,100],"format":"d","title":"Hypothetical Proteins (%)","titleY":95.5}},"y2":{"field":"q3"},"fill":{"field":"tool","type":"nominal","scale":{"domain":["a","b"],"range":["#117FA7","#F3831A"]},"legend":null}}},
{"mark":{"type":"bar","stroke":"#333333","strokeWidth":1.5},"encoding":{"x":{"field":"tool","type":"nominal","axis":null},"y":{"field":"med","type":"quantitative","axis":{"values":[0,25,50,75,100],"format":"d","title":"Hypothetical Proteins (%)","titleY":95.5}},"y2":{"field":"med"}}}]},
{"data":{"name":"C_U15"},"transform":[{"fold":["a","b"],"as":["tool","v"]}],"layer":[
{"mark":{"type":"line","stroke":"#aaaaaa","strokeWidth":0.6,"opacity":0.5},"encoding":{"x":{"field":"tool","type":"nominal","axis":null},"y":{"field":"v","type":"quantitative","axis":{"values":[0,25,50,75,100],"format":"d","title":"Hypothetical Proteins (%)","titleY":95.5}},"detail":{"field":"i","type":"nominal"}}},
{"mark":{"type":"circle","size":17,"stroke":"#1f1f1f","strokeWidth":0.5,"opacity":1},"encoding":{"x":{"field":"tool","type":"nominal","axis":null},"y":{"field":"v","type":"quantitative","axis":{"values":[0,25,50,75,100],"format":"d","title":"Hypothetical Proteins (%)","titleY":95.5}},"fill":{"field":"tool","type":"nominal","legend":null}}}]},
{"data":{"name":"sig"},"transform":[{"filter":"datum.cell=='C_U15'"}],"mark":{"type":"text","align":"right","baseline":"top","dx":-6,"dy":3,"fontWeight":"bold","fontSize":17,"color":"#000000"},"encoding":{"x":{"value":"width"},"y":{"value":0},"text":{"field":"s","type":"nominal"}}}]},
{"width":1,"height":1,"view":{"stroke":null},"data":{"name":"none"},"mark":"point"},
{"width":297,"height":93,"layer":[
{"data":{"name":"box"},"transform":[{"filter":"datum.cell=='C_I15'"}],"layer":[
{"mark":{"type":"rule","stroke":"#333333","strokeWidth":0.8},"encoding":{"x":{"field":"tool","type":"nominal","scale":{"type":"band","domain":["a","b"],"paddingInner":0.25,"paddingOuter":0.225},"axis":null},"y":{"field":"lo","type":"quantitative","scale":{"domain":[-5,104.5],"nice":false,"zero":false},"axis":null},"y2":{"field":"hi"}}},
{"mark":{"type":"bar","stroke":"#333333","strokeWidth":0.8},"encoding":{"x":{"field":"tool","type":"nominal","axis":null},"y":{"field":"q1","type":"quantitative","axis":null},"y2":{"field":"q3"},"fill":{"field":"tool","type":"nominal","scale":{"domain":["a","b"],"range":["#117FA7","#F3831A"]},"legend":null}}},
{"mark":{"type":"bar","stroke":"#333333","strokeWidth":1.5},"encoding":{"x":{"field":"tool","type":"nominal","axis":null},"y":{"field":"med","type":"quantitative","axis":null},"y2":{"field":"med"}}}]},
{"data":{"name":"C_I15"},"transform":[{"fold":["a","b"],"as":["tool","v"]}],"layer":[
{"mark":{"type":"line","stroke":"#aaaaaa","strokeWidth":0.6,"opacity":0.5},"encoding":{"x":{"field":"tool","type":"nominal","axis":null},"y":{"field":"v","type":"quantitative","axis":null},"detail":{"field":"i","type":"nominal"}}},
{"mark":{"type":"circle","size":17,"stroke":"#1f1f1f","strokeWidth":0.5,"opacity":1},"encoding":{"x":{"field":"tool","type":"nominal","axis":null},"y":{"field":"v","type":"quantitative","axis":null},"fill":{"field":"tool","type":"nominal","legend":null}}}]},
{"data":{"name":"sig"},"transform":[{"filter":"datum.cell=='C_I15'"}],"mark":{"type":"text","align":"right","baseline":"top","dx":-6,"dy":3,"fontWeight":"bold","fontSize":17,"color":"#000000"},"encoding":{"x":{"value":"width"},"y":{"value":0},"text":{"field":"s","type":"nominal"}}}]},
{"width":17,"height":93,"view":{"fill":"#d9d9d9","stroke":"#333333"},"data":{"values":[{"s":"15"}]},"mark":{"type":"text","fontSize":10.5,"color":"#1a1a1a","angle":90},"encoding":{"text":{"field":"s","type":"nominal"}}},
{"width":1,"height":5,"view":{"stroke":null},"data":{"name":"none"},"mark":"point"},
{"width":1,"height":1,"view":{"stroke":null},"data":{"name":"none"},"mark":"point"},
{"width":1,"height":1,"view":{"stroke":null},"data":{"name":"none"},"mark":"point"},
{"width":1,"height":1,"view":{"stroke":null},"data":{"name":"none"},"mark":"point"},
{"width":1,"height":1,"view":{"stroke":null},"data":{"name":"none"},"mark":"point"},
{"width":1,"height":1,"view":{"stroke":null},"data":{"name":"none"},"mark":"point"},
{"width":297,"height":93,"layer":[
{"data":{"name":"box"},"transform":[{"filter":"datum.cell=='C_U4'"}],"layer":[
{"mark":{"type":"rule","stroke":"#333333","strokeWidth":0.8},"encoding":{"x":{"field":"tool","type":"nominal","scale":{"type":"band","domain":["a","b"],"paddingInner":0.25,"paddingOuter":0.225},"axis":{"title":null,"labelAngle":0,"labelExpr":"datum.value=='a'?'Pharokka':'Pharokka-gv'"}},"y":{"field":"lo","type":"quantitative","scale":{"domain":[40.6,95.3],"nice":false,"zero":false},"axis":{"values":[50,60,70,80,90],"format":"d","title":null}},"y2":{"field":"hi"}}},
{"mark":{"type":"bar","stroke":"#333333","strokeWidth":0.8},"encoding":{"x":{"field":"tool","type":"nominal","axis":{"title":null,"labelAngle":0,"labelExpr":"datum.value=='a'?'Pharokka':'Pharokka-gv'"}},"y":{"field":"q1","type":"quantitative","axis":{"values":[50,60,70,80,90],"format":"d","title":null}},"y2":{"field":"q3"},"fill":{"field":"tool","type":"nominal","scale":{"domain":["a","b"],"range":["#117FA7","#F3831A"]},"legend":null}}},
{"mark":{"type":"bar","stroke":"#333333","strokeWidth":1.5},"encoding":{"x":{"field":"tool","type":"nominal","axis":{"title":null,"labelAngle":0,"labelExpr":"datum.value=='a'?'Pharokka':'Pharokka-gv'"}},"y":{"field":"med","type":"quantitative","axis":{"values":[50,60,70,80,90],"format":"d","title":null}},"y2":{"field":"med"}}}]},
{"data":{"name":"C_U4"},"transform":[{"fold":["a","b"],"as":["tool","v"]}],"layer":[
{"mark":{"type":"line","stroke":"#aaaaaa","strokeWidth":0.6,"opacity":0.5},"encoding":{"x":{"field":"tool","type":"nominal","axis":{"title":null,"labelAngle":0,"labelExpr":"datum.value=='a'?'Pharokka':'Pharokka-gv'"}},"y":{"field":"v","type":"quantitative","axis":{"values":[50,60,70,80,90],"format":"d","title":null}},"detail":{"field":"i","type":"nominal"}}},
{"mark":{"type":"circle","size":17,"stroke":"#1f1f1f","strokeWidth":0.5,"opacity":1},"encoding":{"x":{"field":"tool","type":"nominal","axis":{"title":null,"labelAngle":0,"labelExpr":"datum.value=='a'?'Pharokka':'Pharokka-gv'"}},"y":{"field":"v","type":"quantitative","axis":{"values":[50,60,70,80,90],"format":"d","title":null}},"fill":{"field":"tool","type":"nominal","legend":null}}}]},
{"data":{"name":"sig"},"transform":[{"filter":"datum.cell=='C_U4'"}],"mark":{"type":"text","align":"right","baseline":"top","dx":-6,"dy":3,"fontWeight":"bold","fontSize":17,"color":"#000000"},"encoding":{"x":{"value":"width"},"y":{"value":0},"text":{"field":"s","type":"nominal"}}}]},
{"width":1,"height":1,"view":{"stroke":null},"data":{"name":"none"},"mark":"point"},
{"width":297,"height":93,"layer":[
{"data":{"name":"box"},"transform":[{"filter":"datum.cell=='C_I4'"}],"layer":[
{"mark":{"type":"rule","stroke":"#333333","strokeWidth":0.8},"encoding":{"x":{"field":"tool","type":"nominal","scale":{"type":"band","domain":["a","b"],"paddingInner":0.25,"paddingOuter":0.225},"axis":{"title":null,"labelAngle":0,"labelExpr":"datum.value=='a'?'Pharokka':'Pharokka-gv'"}},"y":{"field":"lo","type":"quantitative","scale":{"domain":[40.6,95.3],"nice":false,"zero":false},"axis":null},"y2":{"field":"hi"}}},
{"mark":{"type":"bar","stroke":"#333333","strokeWidth":0.8},"encoding":{"x":{"field":"tool","type":"nominal","axis":{"title":null,"labelAngle":0,"labelExpr":"datum.value=='a'?'Pharokka':'Pharokka-gv'"}},"y":{"field":"q1","type":"quantitative","axis":null},"y2":{"field":"q3"},"fill":{"field":"tool","type":"nominal","scale":{"domain":["a","b"],"range":["#117FA7","#F3831A"]},"legend":null}}},
{"mark":{"type":"bar","stroke":"#333333","strokeWidth":1.5},"encoding":{"x":{"field":"tool","type":"nominal","axis":{"title":null,"labelAngle":0,"labelExpr":"datum.value=='a'?'Pharokka':'Pharokka-gv'"}},"y":{"field":"med","type":"quantitative","axis":null},"y2":{"field":"med"}}}]},
{"data":{"name":"C_I4"},"transform":[{"fold":["a","b"],"as":["tool","v"]}],"layer":[
{"mark":{"type":"line","stroke":"#aaaaaa","strokeWidth":0.6,"opacity":0.5},"encoding":{"x":{"field":"tool","type":"nominal","axis":{"title":null,"labelAngle":0,"labelExpr":"datum.value=='a'?'Pharokka':'Pharokka-gv'"}},"y":{"field":"v","type":"quantitative","axis":null},"detail":{"field":"i","type":"nominal"}}},
{"mark":{"type":"circle","size":17,"stroke":"#1f1f1f","strokeWidth":0.5,"opacity":1},"encoding":{"x":{"field":"tool","type":"nominal","axis":{"title":null,"labelAngle":0,"labelExpr":"datum.value=='a'?'Pharokka':'Pharokka-gv'"}},"y":{"field":"v","type":"quantitative","axis":null},"fill":{"field":"tool","type":"nominal","legend":null}}}]},
{"data":{"name":"sig"},"transform":[{"filter":"datum.cell=='C_I4'"}],"mark":{"type":"text","align":"right","baseline":"top","dx":-5,"dy":3,"fontWeight":"bold","fontSize":14,"color":"#000000"},"encoding":{"x":{"value":"width"},"y":{"value":0},"text":{"field":"s","type":"nominal"}}}]},
{"width":17,"height":93,"view":{"fill":"#d9d9d9","stroke":"#333333"},"data":{"values":[{"s":"4"}]},"mark":{"type":"text","fontSize":10.5,"color":"#1a1a1a","angle":90},"encoding":{"text":{"field":"s","type":"nominal"}}}
]}
]
}
